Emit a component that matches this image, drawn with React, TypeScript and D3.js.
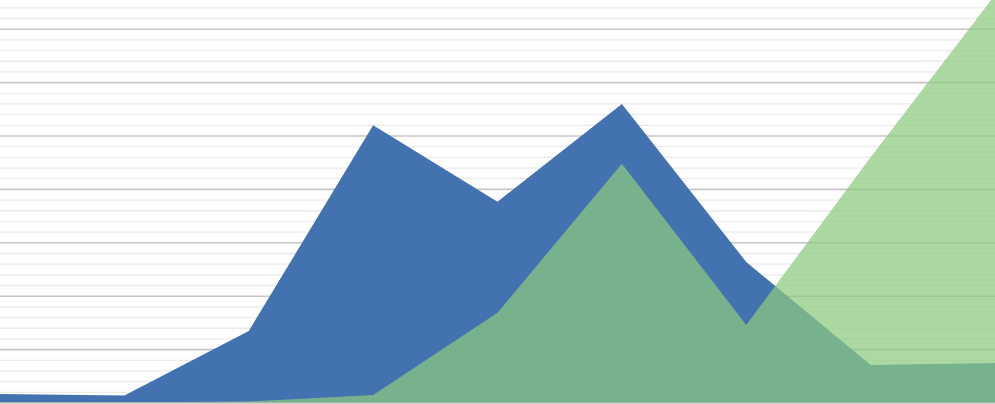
import React from "react";
import * as d3 from "d3";

const categories = ["P1", "P2", "P3", "P4", "P5", "P6", "P7", "P8", "P9"];
const seriesBlue = [0.85, 0.7, 6.75, 26.0, 18.85, 28.0, 13.2, 3.55, 3.75];
const seriesGreen = [0.05, 0.05, 0.15, 0.75, 8.45, 22.4, 7.3, 23.0, 38.2];
const gridValues = d3.range(0, 38, 1);

const W = 995;
const H = 404;

export default function App() {
  const x = d3.scalePoint<string>().domain(categories).range([0, W]);
  const y = d3.scaleLinear().domain([0, 40]).range([403, 403 - 40 * 10.68]);

  const area = d3
    .area<number>()
    .x((_, i) => x(categories[i]) as number)
    .y0(y(0))
    .y1((d) => y(d));

  return (
    <div style={{ position: "fixed", left: 0, top: 0, width: W, height: H, background: "#fff" }}>
      <svg width={W} height={H} style={{ display: "block" }}>
        <rect width={W} height={H} fill="#ffffff" />
        {gridValues.map((v) => (
          <line
            key={v}
            x1={0}
            x2={W}
            y1={y(v)}
            y2={y(v)}
            stroke={v % 5 === 0 ? "#c6c6c6" : "#ebebeb"}
            strokeWidth={v % 5 === 0 ? 1.6 : 1.3}
          />
        ))}
        <path d={area(seriesBlue) || ""} fill="#4372b1" />
        <path d={area(seriesGreen) || ""} fill="#8ccb7e" fillOpacity={0.72} />
        <line x1={0} x2={W} y1={402.5} y2={402.5} stroke="#9fb8a8" strokeWidth={1} />
      </svg>
    </div>
  );
}
